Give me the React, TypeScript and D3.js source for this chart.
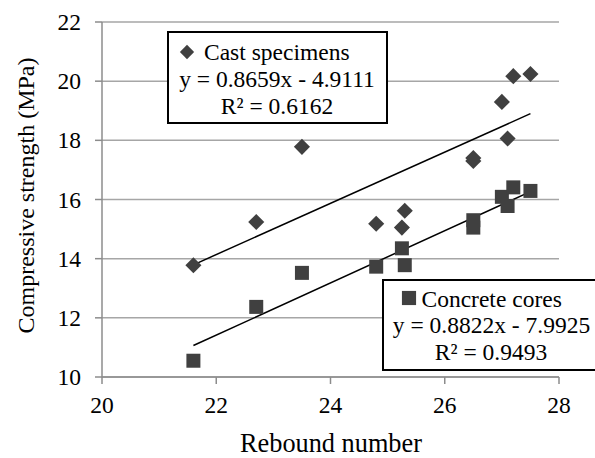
import React from "react";
import * as d3 from "d3";

const castX = [21.6, 22.7, 23.5, 24.8, 25.25, 25.3, 26.5, 26.5, 27.0, 27.1, 27.2, 27.5];
const castY = [13.78, 15.24, 17.78, 15.18, 15.05, 15.62, 17.3, 17.4, 19.3, 18.06, 20.17, 20.24];
const coreX = [21.6, 22.7, 23.5, 24.8, 25.25, 25.3, 26.5, 26.5, 27.0, 27.1, 27.2, 27.5];
const coreY = [10.55, 12.37, 13.52, 13.73, 14.35, 13.78, 15.3, 15.05, 16.09, 15.78, 16.41, 16.29];
const castFit = { slope: 0.8659, intercept: -4.9111 };
const coreFit = { slope: 0.8822, intercept: -7.9925 };
const xTicks = [20, 22, 24, 26, 28];
const yTicks = [10, 12, 14, 16, 18, 20, 22];
const castLegend = ["Cast specimens", "y = 0.8659x - 4.9111", "R² = 0.6162"];
const coreLegend = ["Concrete cores", "y = 0.8822x - 7.9925", "R² = 0.9493"];
const xTitle = "Rebound number";
const yTitle = "Compressive strength (MPa)";

const W = 595;
const H = 458;
const FONT = '"Liberation Serif", "Times New Roman", Tinos';
const MARK = "#404040";
const GRID = "#a6a6a6";
const AXIS = "#8c8c8c";

function T({ fs, children, ...props }: any) {
  return (
    <text {...props} fill="#000" fontFamily={FONT} style={{ fontFamily: FONT, fontSize: `${fs}px` }}>
      {children}
    </text>
  );
}

export default function App() {
  const x = d3.scaleLinear().domain([20, 28]).range([102, 559]);
  const y = d3.scaleLinear().domain([10, 22]).range([377, 22]);
  const diamond = d3.symbol().type(d3.symbolDiamond2).size(165)();
  const square = d3.symbol().type(d3.symbolSquare).size(196)();
  const legDiamond = d3.symbol().type(d3.symbolDiamond2).size(130)();
  const legSquare = d3.symbol().type(d3.symbolSquare).size(200)();

  const fitLine = (fit: { slope: number; intercept: number }, xs: number[]) => {
    const x0 = d3.min(xs)!;
    const x1 = d3.max(xs)!;
    return d3.line<number>()
      .x((v) => x(v))
      .y((v) => y(fit.slope * v + fit.intercept))([x0, x1])!;
  };

  return (
    <svg width={W} height={H} style={{ position: "absolute", left: 0, top: 0 }}>
      <style>{`text { font-family: "Liberation Serif", "Times New Roman", Tinos; }`}</style>
      <rect width={W} height={H} fill="#fff" />
      {yTicks.map((t) => (
        <line key={"g" + t} x1={x(20)} x2={x(28)} y1={y(t)} y2={y(t)} stroke={GRID} strokeWidth={1.5} />
      ))}
      <line x1={x(20)} x2={x(20)} y1={y(22)} y2={y(10)} stroke={AXIS} strokeWidth={1.5} />
      {yTicks.map((t) => (
        <g key={"yt" + t}>
          <line x1={x(20) - 7} x2={x(20)} y1={y(t)} y2={y(t)} stroke={AXIS} strokeWidth={1.5} />
          <T x={81} y={y(t) + 8} textAnchor="end" fs={23.5}>{String(t)}</T>
        </g>
      ))}
      <line x1={x(20)} x2={x(28)} y1={y(10)} y2={y(10)} stroke={AXIS} strokeWidth={1.5} />
      {xTicks.map((t) => (
        <g key={"xt" + t}>
          <line x1={x(t)} x2={x(t)} y1={y(10)} y2={y(10) + 7} stroke={AXIS} strokeWidth={1.5} />
          <T x={x(t)} y={413} textAnchor="middle" fs={23.5}>{String(t)}</T>
        </g>
      ))}
      <T x={331} y={452} textAnchor="middle" fs={26.3}>{xTitle}</T>
      <T transform={`translate(34, ${(55 + 336) / 2}) rotate(-90)`} textAnchor="middle" fs={24}>
        {yTitle}
      </T>
      <path d={fitLine(castFit, castX)} stroke="#000" strokeWidth={1.5} fill="none" />
      <path d={fitLine(coreFit, coreX)} stroke="#000" strokeWidth={1.5} fill="none" />
      {castX.map((v, i) => (
        <path key={"c" + i} d={diamond} transform={`translate(${x(v)},${y(castY[i])})`} fill={MARK} />
      ))}
      {coreX.map((v, i) => (
        <path key={"k" + i} d={square} transform={`translate(${x(v)},${y(coreY[i])})`} fill={MARK} />
      ))}
      <rect x={168} y={32} width={219} height={91} fill="#fff" stroke="#000" strokeWidth={2} />
      <path d={legDiamond} transform="translate(187,52)" fill={MARK} />
      <T x={204} y={59.5} fs={23.5}>{castLegend[0]}</T>
      <T x={277} y={86.5} textAnchor="middle" fs={23.5}>{castLegend[1]}</T>
      <T x={277} y={113.5} textAnchor="middle" fs={23.5}>{castLegend[2]}</T>
      <rect x={383} y={280} width={220} height={90} fill="#fff" stroke="#000" strokeWidth={2} />
      <path d={legSquare} transform="translate(409,298)" fill={MARK} />
      <T x={421.5} y={306.5} fs={23.5}>{coreLegend[0]}</T>
      <T x={491.5} y={333} textAnchor="middle" fs={23.5}>{coreLegend[1]}</T>
      <T x={491} y={360} textAnchor="middle" fs={23.5}>{coreLegend[2]}</T>
    </svg>
  );
}
